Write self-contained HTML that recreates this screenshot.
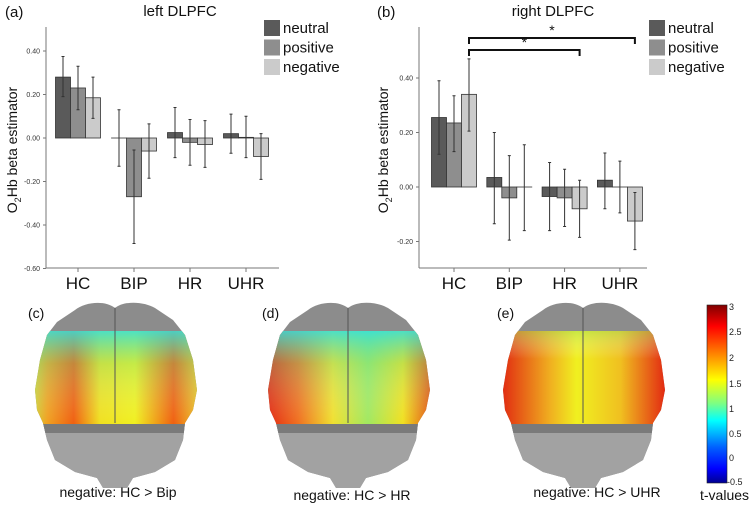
<!DOCTYPE html>
<html><head><meta charset="utf-8"><style>
html,body{margin:0;padding:0;background:#fff}
svg{display:block;font-family:"Liberation Sans",Arial,sans-serif}
</style></head><body>
<svg id="fig" width="750" height="505" viewBox="0 0 750 505" xmlns="http://www.w3.org/2000/svg">
<defs>
  <linearGradient id="cb" x1="0" y1="0" x2="0" y2="1">
    <stop offset="0" stop-color="#800000"/><stop offset="0.12" stop-color="#ff0000"/>
    <stop offset="0.3" stop-color="#ff9900"/><stop offset="0.42" stop-color="#ffff00"/>
    <stop offset="0.55" stop-color="#80ff80"/><stop offset="0.65" stop-color="#00ffff"/>
    <stop offset="0.8" stop-color="#0060ff"/><stop offset="0.92" stop-color="#0000ff"/>
    <stop offset="1" stop-color="#000090"/></linearGradient>
  <linearGradient id="gc" x1="0" x2="1"><stop offset="0" stop-color="#c8e040"/><stop offset="0.1" stop-color="#f0a020"/><stop offset="0.25" stop-color="#f06010"/><stop offset="0.4" stop-color="#f0e020"/><stop offset="0.6" stop-color="#f0f020"/><stop offset="0.82" stop-color="#f06010"/><stop offset="1" stop-color="#e8e030"/></linearGradient>
  <linearGradient id="gd" x1="0" x2="1"><stop offset="0" stop-color="#e02010"/><stop offset="0.2" stop-color="#f07020"/><stop offset="0.4" stop-color="#f0e030"/><stop offset="0.6" stop-color="#a0e860"/><stop offset="0.8" stop-color="#f0e020"/><stop offset="1" stop-color="#e03010"/></linearGradient>
  <linearGradient id="ge" x1="0" x2="1"><stop offset="0" stop-color="#e02010"/><stop offset="0.3" stop-color="#f0b020"/><stop offset="0.45" stop-color="#f0f020"/><stop offset="0.7" stop-color="#f0c020"/><stop offset="1" stop-color="#e01010"/></linearGradient>
  <linearGradient id="topc" x1="0" y1="0" x2="0" y2="1"><stop offset="0" stop-color="#30e0e0" stop-opacity="0.85"/><stop offset="0.35" stop-color="#60e0a0" stop-opacity="0.3"/><stop offset="1" stop-color="#ffffff" stop-opacity="0"/></linearGradient>
  <linearGradient id="tope" x1="0" y1="0" x2="0" y2="1"><stop offset="0" stop-color="#a0e060" stop-opacity="0.5"/><stop offset="0.3" stop-color="#ffffff" stop-opacity="0"/></linearGradient>
  <clipPath id="brainclip"><path d="M80,8 C70,0 50,2 40,10 L22,22 L12,35 L5,60 L0,90 L2,110 L8,123 L12,140 L20,160 L40,172 L62,178 L68,188 L92,188 L98,178 L120,172 L140,160 L148,140 L150,123 L158,110 L162,90 L158,60 L150,35 L138,20 L120,8 C110,2 90,0 80,8 Z"/></clipPath>
</defs>
<g id="charts"></g>
<g id="brains"></g>
<g>
  <rect x="707" y="305" width="20" height="178" fill="url(#cb)" stroke="#222" stroke-width="0.6"/>
  <g font-size="9" fill="#222">
    <text x="729" y="310">3</text><text x="729" y="335">2.5</text><text x="729" y="361">2</text><text x="729" y="387">1.5</text><text x="729" y="412">1</text><text x="729" y="437">0.5</text><text x="729" y="461">0</text><text x="727" y="485">-0.5</text>
  </g>
  <text x="700" y="500" font-size="14" fill="#111">t-values</text>
</g>
</svg>
<script>
const categories=["HC","BIP","HR","UHR"];
const seriesNames=["neutral","positive","negative"];
const leftVals=[[0.28,0.23,0.185],[0.0,-0.27,-0.06],[0.025,-0.02,-0.03],[0.02,0.003,-0.085]];
const leftHi=[[0.375,0.33,0.28],[0.13,-0.055,0.065],[0.14,0.085,0.08],[0.11,0.1,0.02]];
const leftLo=[[0.19,0.13,0.09],[-0.13,-0.485,-0.185],[-0.09,-0.125,-0.135],[-0.07,-0.09,-0.19]];
const rightVals=[[0.255,0.235,0.34],[0.035,-0.04,0.0],[-0.035,-0.04,-0.08],[0.025,0.0,-0.125]];
const rightHi=[[0.39,0.335,0.47],[0.2,0.115,0.155],[0.09,0.065,0.025],[0.125,0.095,-0.02]];
const rightLo=[[0.12,0.13,0.205],[-0.135,-0.195,-0.16],[-0.16,-0.145,-0.185],[-0.08,-0.095,-0.23]];
const leftTicks=[0.4,0.2,0,-0.2,-0.4,-0.6];
const leftTickLabels=["0.40","0.20","0.00","-0.20","-0.40","-0.60"];
const rightTicks=[0.4,0.2,0,-0.2];
const rightTickLabels=["0.40","0.20","0.00","-0.20"];
const colors=["#5a5a5a","#8e8e8e","#cbcbcb"];
const NS="http://www.w3.org/2000/svg";
function mk(tag,attrs,parent){const e=document.createElementNS(NS,tag);for(const k in attrs)e.setAttribute(k,attrs[k]);parent.appendChild(e);return e;}
function chart(cfg){
  const g=mk("g",{},document.getElementById("charts"));
  
  
  const y=v=>cfg.zero-v/0.2*cfg.step;
  const x=i=>cfg.x0+i*cfg.dx;
  mk("line",{x1:cfg.ax,y1:27,x2:cfg.ax,y2:268,stroke:"#777","stroke-width":1},g);
  mk("line",{x1:cfg.ax,y1:268,x2:cfg.axEnd,y2:268,stroke:"#777","stroke-width":1},g);
  cfg.ticks.forEach((t,i)=>{
    mk("line",{x1:cfg.ax-3,y1:y(t),x2:cfg.ax,y2:y(t),stroke:"#777"},g);
    const tx=mk("text",{x:cfg.ax-6,y:y(t)+2.5,"font-size":7,"text-anchor":"end",fill:"#333"},g);
    tx.textContent=cfg.tickLabels[i];
    
    
  });
  categories.forEach((c,i)=>{
    mk("line",{x1:x(i),y1:268,x2:x(i),y2:272,stroke:"#777"},g);
    const t=mk("text",{x:x(i),y:289,"font-size":17,"text-anchor":"middle",fill:"#111"},g);
    t.textContent=c;
    
    
    for(let s=0;s<3;s++){
      const v=cfg.vals[i][s];const bx=x(i)-22.5+s*15;
      const r=mk("rect",{x:bx,y:Math.min(y(v),y(0)),width:15,height:Math.max(Math.abs(y(v)-y(0)),0.01),fill:colors[s],stroke:"#333","stroke-width":0.8},g);
      
      
      const cx=bx+7.5;
      const e=mk("path",{d:`M${cx},${y(cfg.hi[i][s])}V${y(cfg.lo[i][s])}M${cx-1.5},${y(cfg.hi[i][s])}h3M${cx-1.5},${y(cfg.lo[i][s])}h3`,stroke:"#333","stroke-width":1,fill:"none"},g);
      
      
    }
  });
  const yt=mk("text",{transform:`translate(${cfg.ytx},150) rotate(-90)`,"font-size":14,"text-anchor":"middle",fill:"#111"},g);
  yt.innerHTML='O<tspan font-size="9" dy="4">2</tspan><tspan dy="-4">Hb beta estimator</tspan>';
  
  
  const ti=mk("text",{x:cfg.titleX,y:16,"font-size":15,"text-anchor":"middle",fill:"#111"},g);
  ti.textContent=cfg.title;
  
  
  const pl=mk("text",{x:cfg.panelX,y:17,"font-size":15,fill:"#111"},g);
  pl.textContent=cfg.panel;
  
  
  seriesNames.forEach((n,s)=>{
    const lg=mk("g",{},g);
    
    
    mk("rect",{x:cfg.legX,y:20+s*19.5,width:16,height:16,fill:colors[s]},lg);
    const lt=mk("text",{x:cfg.legX+19,y:33+s*19.5,"font-size":15,fill:"#111"},lg);
    lt.textContent=n;
  });
  return {g,x,y};
}
chart({name:"left-dlpfc-chart",zero:138,step:43.5,ax:46,axEnd:279,x0:78,dx:56,vals:leftVals,hi:leftHi,lo:leftLo,ticks:leftTicks,tickLabels:leftTickLabels,ytx:17,title:"left DLPFC",titleX:180,panel:"(a)",panelX:5,legX:264});
const R=chart({name:"right-dlpfc-chart",zero:187,step:54.5,ax:419,axEnd:647,x0:454,dx:55.3,vals:rightVals,hi:rightHi,lo:rightLo,ticks:rightTicks,tickLabels:rightTickLabels,ytx:388,title:"right DLPFC",titleX:553,panel:"(b)",panelX:377,legX:649});
const sig=[[0,3,38],[0,2,50]];
sig.forEach(([a,b,yy])=>{
  const xa=R.x(a)+15,xb=R.x(b)+15;
  const p=mk("path",{d:`M${xa},${yy+6}V${yy}H${xb}V${yy+6}`,stroke:"#111","stroke-width":2,fill:"none"},R.g);
  
  
  const t=mk("text",{x:(xa+xb)/2,y:yy-3,"font-size":14,"text-anchor":"middle",fill:"#111"},R.g);
  t.textContent="*";
  
  
});
const brains=[{x:35,grad:"gc",top:"topc",label:"negative: HC > Bip",lx:118,ly:497,p:"(c)",px:28},
 {x:268,grad:"gd",top:"topc",label:"negative: HC > HR",lx:352,ly:500,p:"(d)",px:262},
 {x:503,grad:"ge",top:"tope",label:"negative: HC > UHR",lx:597,ly:497,p:"(e)",px:497}];
brains.forEach(b=>{
  const g=mk("g",{transform:`translate(${b.x},300)`},document.getElementById("brains"));
  
  
  const c=mk("g",{"clip-path":"url(#brainclip)"},g);
  mk("rect",{x:-5,y:-5,width:175,height:200,fill:"#8c8c8c"},c);
  mk("rect",{x:-5,y:123,width:175,height:70,fill:"#a2a2a2"},c);
  mk("rect",{x:-5,y:123,width:175,height:10,fill:"#7a7a7a"},c);
  mk("rect",{x:-5,y:31,width:175,height:93,fill:`url(#${b.grad})`},c);
  mk("rect",{x:-5,y:31,width:175,height:93,fill:`url(#${b.top})`},c);
  mk("line",{x1:80,y1:3,x2:80,y2:123,stroke:"#555","stroke-width":1},c);
  const pl=mk("text",{x:b.px-b.x,y:18,"font-size":14,fill:"#111"},g);
  pl.textContent=b.p;
  
  
  const t=mk("text",{x:b.lx,y:b.ly,"font-size":14,"text-anchor":"middle",fill:"#111"},document.getElementById("brains"));
  t.textContent=b.label;
  
  
});
</script>
</body></html>
